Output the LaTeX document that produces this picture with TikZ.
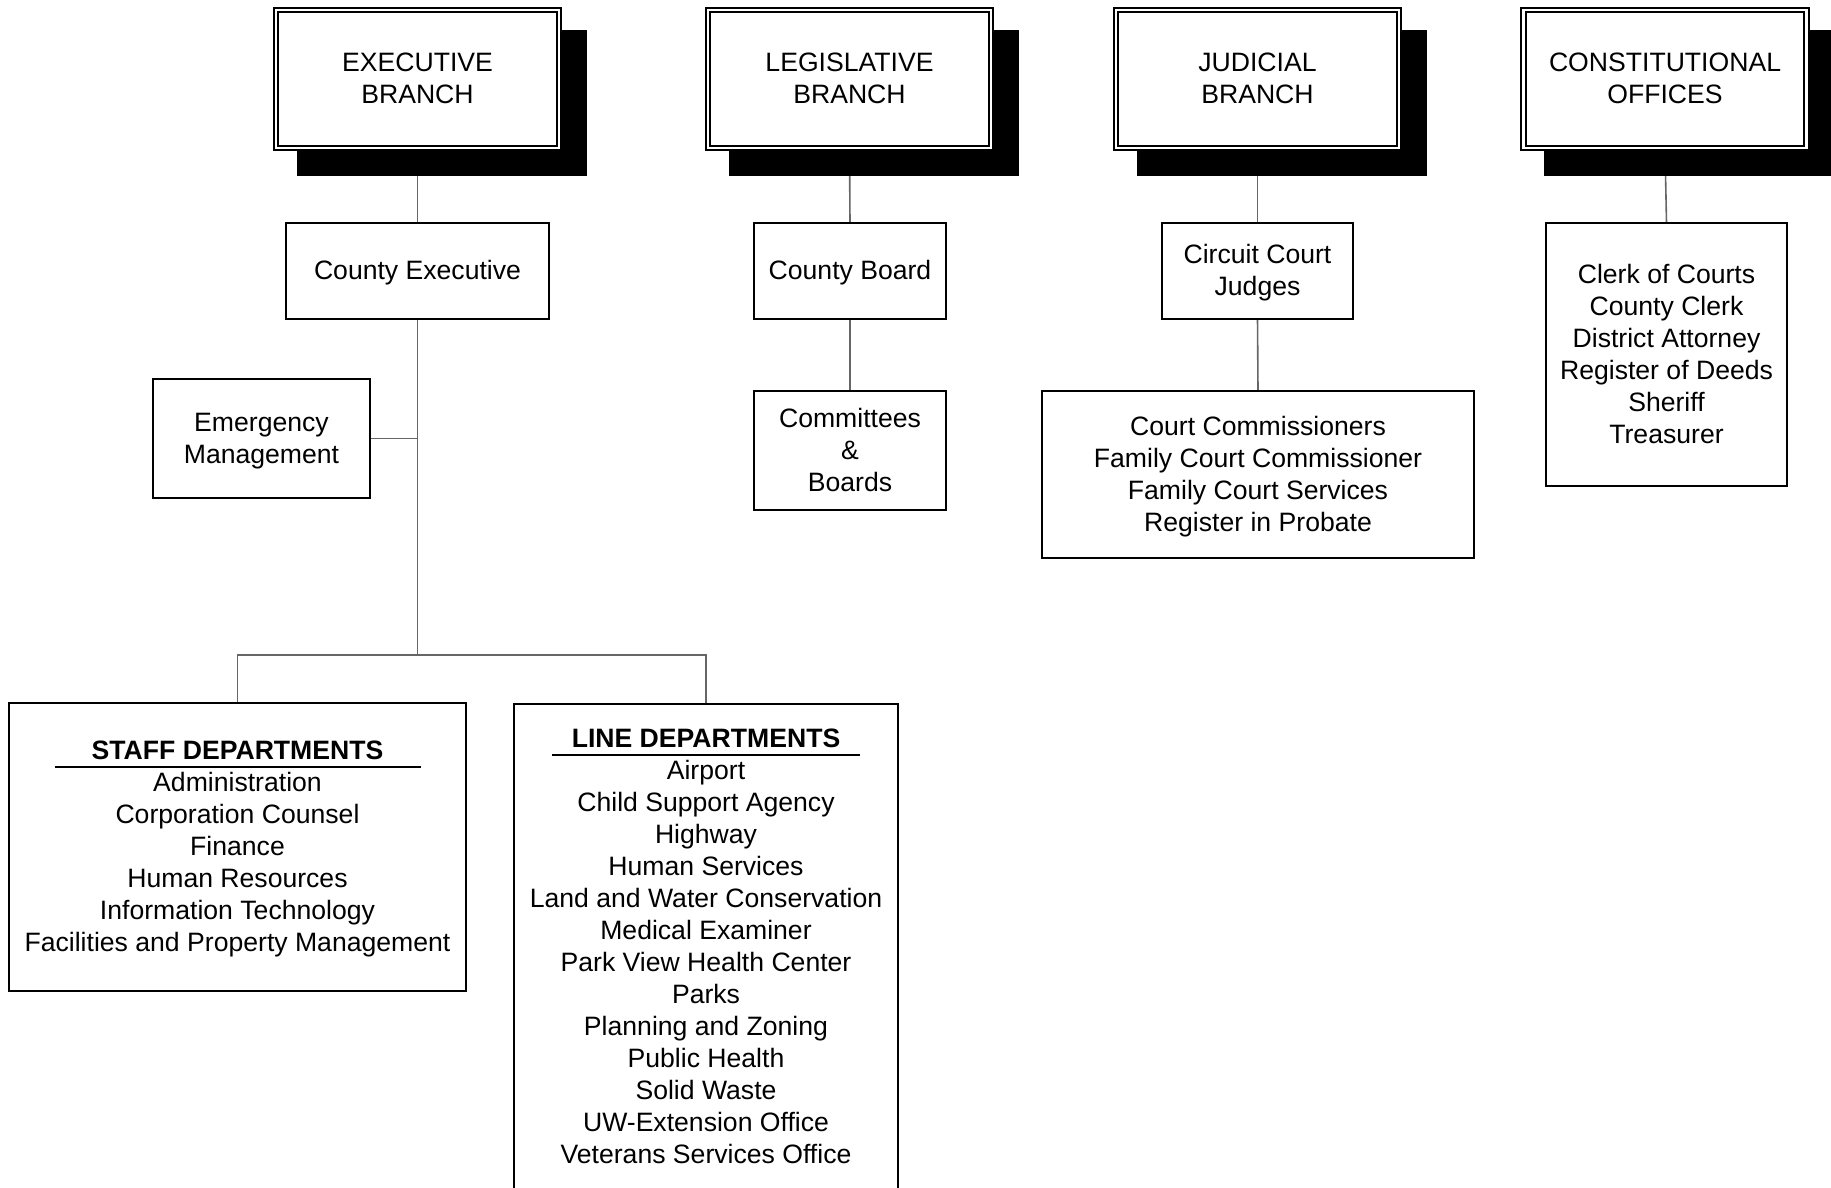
\documentclass[tikz,border=0pt]{standalone}
\usepackage{fontspec}
\setmainfont{Liberation Sans}
\usetikzlibrary{backgrounds}
\newcommand\mystrut{\rule[-8pt]{0pt}{32pt}}
\newcommand\stack[1]{\begin{tabular}{@{}c@{}}#1\end{tabular}}
\begin{document}
\begin{tikzpicture}[x=1pt,y=-1pt,
  box/.style={draw=black, line width=2pt, fill=white, inner sep=0pt, outer sep=0pt,
    align=center, font=\fontsize{26.6}{32}\selectfont,
    execute at begin node=\mystrut, execute at end node=\mystrut},
  branch/.style={box, line width=1.8pt, double=white, double distance=2.5pt,
    minimum width=283pt, minimum height=138pt},
  mtext/.style={draw=none, fill=none, inner sep=0pt, outer sep=0pt,
    font=\fontsize{26.6}{32}\selectfont, yshift=-2.4pt},
  conn/.style={draw=black!60, line width=1.6pt},
  shadowfill/.style={fill=black},
  uline/.style={draw=black, line width=2pt}]
\useasboundingbox (0,0) rectangle (1831,1188);

% branch boxes
\node[branch] (ex)  at (417.5,79)  {};
\node[mtext] (exT) at (ex.center) {\stack{EXECUTIVE\\BRANCH}};
\node[branch] (leg) at (849.5,79)  {};
\node[mtext] (legT) at (leg.center) {\stack{LEGISLATIVE\\BRANCH}};
\node[branch] (jud) at (1257.5,79) {};
\node[mtext] (judT) at (jud.center) {\stack{JUDICIAL\\BRANCH}};
\node[branch] (con) at (1665,79)   {};
\node[mtext] (conT) at (con.center) {\stack{CONSTITUTIONAL\\OFFICES}};

% second level
\node[box, minimum width=263.5pt, minimum height=95.5pt] (ce) at (417.5,271) {County Executive};
\node[box, minimum width=216.5pt, minimum height=118.5pt] (em) at (261.5,438.5) {};
\node[mtext] (emT) at (em.center) {\stack{Emergency\\Management}};
\node[box, minimum width=191.5pt, minimum height=95.5pt] (cb) at (850,271) {County Board};
\node[box, minimum width=191.5pt, minimum height=118.5pt] (comm) at (850,450.5) {};
\node[mtext] (commT) at (comm.center) {\stack{Committees\\\&\\Boards}};
\node[box, minimum width=190.5pt, minimum height=95.5pt] (ccj) at (1257.5,271) {};
\node[mtext] (ccjT) at (ccj.center) {\stack{Circuit Court\\Judges}};
\node[box, minimum width=431.5pt, minimum height=166.5pt] (cc) at (1258,474.5) {};
\node[mtext] (ccT) at (cc.center)
  {\stack{Court Commissioners\\Family Court Commissioner\\Family Court Services\\Register in Probate}};
\node[box, minimum width=240.5pt, minimum height=262.5pt] (co) at (1666.5,354.5) {};
\node[mtext] (coT) at (co.center)
  {\stack{Clerk of Courts\\County Clerk\\District Attorney\\Register of Deeds\\Sheriff\\Treasurer}};

% departments
\node[box, minimum width=456.5pt, minimum height=287.5pt] (staff) at (237.5,847) {};
\node[mtext, yshift=0.8pt] (staffT) at (staff.center)
  {\stack{\textbf{STAFF DEPARTMENTS}\\Administration\\Corporation Counsel\\Finance\\Human Resources\\Information Technology\\Facilities and Property Management}};
\begin{scope}
\clip (0,0) rectangle (1831,1188);
\node[box, minimum width=383.5pt, minimum height=486pt] (line) at (706,947) {};
\end{scope}
\node[mtext, yshift=0.8pt] (lineT) at (line.center)
  {\stack{\textbf{LINE DEPARTMENTS}\\Airport\\Child Support Agency\\Highway\\Human Services\\Land and Water Conservation\\Medical Examiner\\Park View Health Center\\Parks\\Planning and Zoning\\Public Health\\Solid Waste\\UW-Extension Office\\Veterans Services Office}};
\draw[uline] (55,767) -- (421,767);
\draw[uline] (552,755) -- (860,755);

\coordinate (busc) at (417.5,655);

\begin{pgfonlayer}{background}
  % connectors
  \draw[conn] (ex.south) -- (ce.north);
  \draw[conn] (leg.south) -- (cb.north);
  \draw[conn] (cb.south) -- (comm.north);
  \draw[conn] (jud.south) -- (ccj.north);
  \draw[conn] (ccj.south) -- (cc.north);
  \draw[conn] (con.south) -- (co.north);
  \draw[conn] (ce.south) -- (busc);
  \draw[conn] (em.east) -- (em.east -| busc);
  \draw[conn] (staff.north) -- (staff.north |- busc) -- (line.north |- busc) -- (line.north);
  % shadows
  \foreach \b in {ex,leg,jud,con}{
    \fill[shadowfill] ([xshift=20.75pt,yshift=-19.75pt]\b.north west) rectangle ([xshift=28.25pt,yshift=-28.25pt]\b.south east);
  }
\end{pgfonlayer}
\end{tikzpicture}
\end{document}
